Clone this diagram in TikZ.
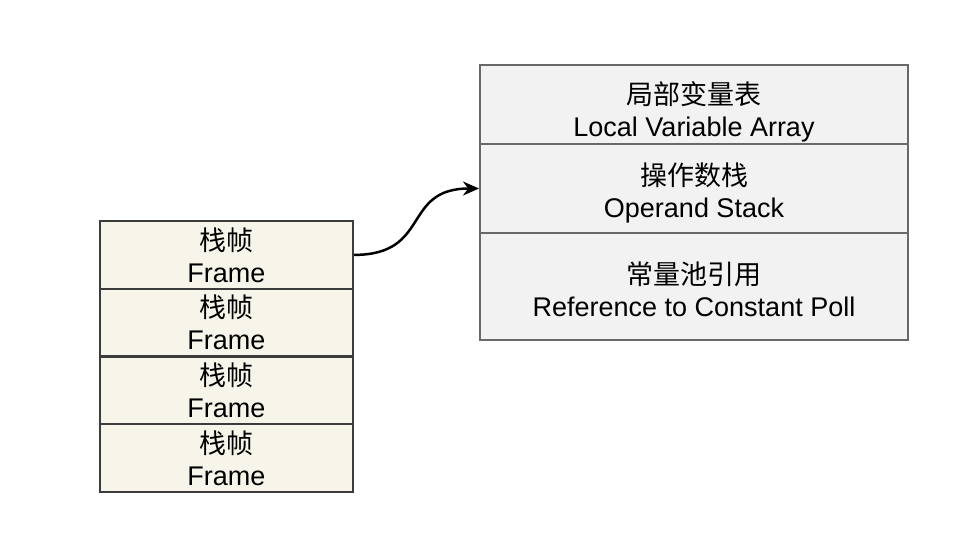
\documentclass[tikz,border=0pt]{standalone}
\usepackage{fontspec}
\usepackage{tikz}
\usepackage{xcolor}
\usetikzlibrary{arrows.meta,positioning}
\setmainfont{Liberation Sans}
\newfontfamily\cjk{Noto Sans CJK SC}
\definecolor{framefill}{RGB}{247,245,234}
\definecolor{frameline}{RGB}{60,60,60}
\definecolor{partfill}{RGB}{242,242,242}
\definecolor{partline}{RGB}{105,105,105}

\begin{document}
\begin{tikzpicture}[x=1pt, y=-1pt,
    framebox/.style={draw=frameline, fill=framefill, line width=2pt, minimum width=253pt, minimum height=67.75pt, align=center, inner sep=0pt, font=\fontsize{27}{32}\selectfont},
    partbox/.style={draw=partline, fill=partfill, line width=2pt, minimum width=428pt, inner sep=0pt},
    parttext/.style={align=center, inner sep=0pt, font=\fontsize{27}{32}\selectfont}]
    \useasboundingbox (0,0) rectangle (980,558);

    % Frames
    \node[framebox] (f1) at (226.5,254.9) {{\cjk 栈帧}\\Frame};
    \node[framebox] (f2) at (226.5,322.6) {{\cjk 栈帧}\\Frame};
    \node[framebox] (f3) at (226.5,390.4) {{\cjk 栈帧}\\Frame};
    \node[framebox] (f4) at (226.5,458.1) {{\cjk 栈帧}\\Frame};

    % Frame parts
    \node[partbox, minimum height=79pt] (lva) at (694,104.5) {};
    \node[parttext] (lvat) at ([yshift=-7pt]lva.center) {{\cjk 局部变量表}\\Local Variable Array};
    \node[partbox, minimum height=89pt] (ops) at (694,188.5) {};
    \node[parttext] (opst) at ([yshift=-4pt]ops.center) {{\cjk 操作数栈}\\Operand Stack};
    \node[partbox, minimum height=107pt] (cpr) at (694,286.5) {};
    \node[parttext] (cprt) at ([yshift=-3pt]cpr.center) {{\cjk 常量池引用}\\Reference to Constant Poll};

    % Arrow
    \draw[-{Stealth[length=16pt,width=14pt]}, line width=2.5pt] (f1.east) to[out=0, in=180, looseness=1.4] (ops.west);
\end{tikzpicture}
\end{document}
